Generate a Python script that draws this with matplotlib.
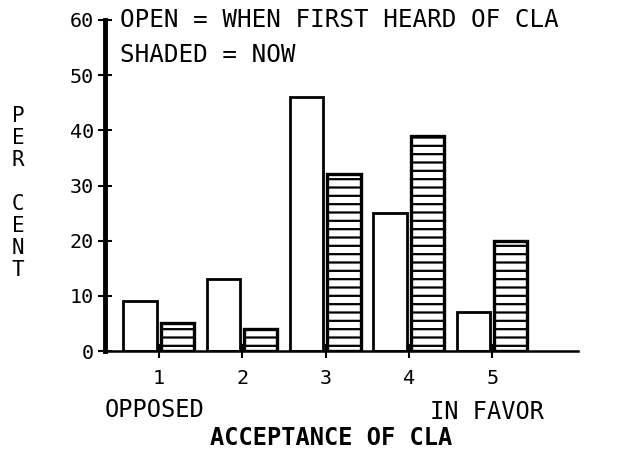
import matplotlib
matplotlib.use("Agg")
import matplotlib.pyplot as plt
import numpy as np

# datos
categorias = [1, 2, 3, 4, 5]
abierto = [9, 13, 46, 25, 7]      # cuando se oyo por primera vez de CLA
sombreado = [5, 4, 32, 39, 20]    # ahora
ticks_y = [0, 10, 20, 30, 40, 50, 60]

plt.rcParams["font.family"] = ["DejaVu Sans Mono"]
plt.rcParams["hatch.linewidth"] = 1.6

fig = plt.figure(figsize=(6.23, 4.65), dpi=100)
ax = fig.add_axes([0.1685, 0.245, 0.7595, 0.712])

x = np.array(categorias)
ancho = 0.40
ax.bar(x - 0.23, abierto, width=ancho, facecolor="white", edgecolor="black", linewidth=2.0)
ax.bar(x + 0.22, sombreado, width=ancho, facecolor="white", edgecolor="black",
       linewidth=2.4, hatch="--")

ax.set_xlim(0.35, 6.03)
ax.set_ylim(0, 60)
ax.set_xticks(categorias)
ax.set_yticks(ticks_y)
ax.tick_params(axis="both", direction="inout", length=10, width=1.5, labelsize=14.5,
               colors="black")
ax.tick_params(axis="x", pad=8)
ax.tick_params(axis="y", pad=3)

for lado in ["top", "right"]:
    ax.spines[lado].set_visible(False)
ax.spines["left"].set_linewidth(3.5)
ax.spines["bottom"].set_linewidth(1.8)

# leyenda en texto
ax.text(0.53, 60, "OPEN = WHEN FIRST HEARD OF CLA", fontsize=17.5, va="center", ha="left")
ax.text(0.53, 53.7, "SHADED = NOW", fontsize=17.5, va="center", ha="left")

# etiqueta vertical letra a letra
fig.text(0.029, 0.585, "\n".join("PER CENT"), fontsize=15, ha="center", va="center",
         linespacing=1.12)

fig.text(0.168, 0.118, "OPPOSED", fontsize=17, ha="left", va="center")
fig.text(0.69, 0.113, "IN FAVOR", fontsize=17, ha="left", va="center")
fig.text(0.531, 0.058, "ACCEPTANCE OF CLA", fontsize=17, fontweight="bold",
         ha="center", va="center")

fig.savefig("out.png", dpi=100, facecolor="white")
